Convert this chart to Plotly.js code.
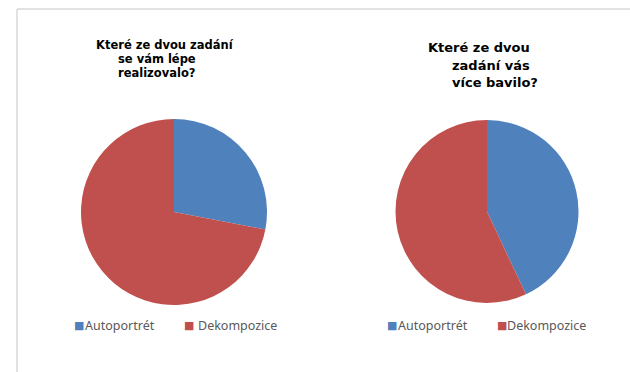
<!DOCTYPE html>
<html>
<head>
<meta charset="utf-8">
<script src="https://cdn.plot.ly/plotly-3.0.1.min.js"></script>
<style>html,body{margin:0;padding:0;background:#fff;overflow:hidden;}#chart{width:630px;height:372px;}</style>
</head>
<body>
<div id="chart"></div>
<script>
// Data
var labels = ["Autoportrét", "Dekompozice"];
var colors = ["#4F81BD", "#C0504D"];
var valuesLeft = [28, 72];
var valuesRight = [43, 57];
var titleLeftLines = ["Které ze dvou zadání", "se vám lépe", "realizovalo?"];
var titleRightLines = ["Které ze dvou", "zadání vás", "více bavilo?"];

var W = 630, H = 372;
function px(x){ return x / W; }
function py(y){ return 1 - y / H; }

var pieCommon = {
  type: "pie",
  labels: labels,
  marker: {colors: colors, line: {width: 0}},
  sort: false,
  direction: "clockwise",
  rotation: 0,
  textinfo: "none",
  hoverinfo: "label+value",
  showlegend: false
};

var traces = [
  Object.assign({}, pieCommon, {
    values: valuesLeft,
    domain: {x: [px(81), px(267)], y: [py(305), py(119)]}
  }),
  Object.assign({}, pieCommon, {
    values: valuesRight,
    domain: {x: [px(395), px(579)], y: [py(303), py(120)]}
  })
];

var annotations = [];
function addTitle(lines, pos, size){
  lines.forEach(function(t, i){
    annotations.push({text: "<b>" + t + "</b>", x: px(pos[i][0]), y: py(pos[i][1]),
      xref: "paper", yref: "paper", xanchor: "left", yanchor: "middle", showarrow: false,
      font: {family: "DejaVu Sans", size: size, color: "#000000", weight: 700}});
  });
}
addTitle(titleLeftLines, [[94, 45], [116, 59], [116, 73]], 11.5);
addTitle(titleRightLines, [[426, 47], [450, 65], [450, 82]], 13);

// Legends (built from labels and colors)
var legendFont = {family: "Noto Sans", size: 12.5, color: "#595959"};
function addLegend(sqX, txtX, y){
  labels.forEach(function(l, i){
    annotations.push({text: "■", x: px(sqX[i]), y: py(y), xref: "paper", yref: "paper",
      xanchor: "left", yanchor: "middle", showarrow: false,
      font: {family: "DejaVu Sans", size: 11, color: colors[i]}});
    annotations.push({text: l, x: px(txtX[i]), y: py(y), xref: "paper", yref: "paper",
      xanchor: "left", yanchor: "middle", showarrow: false, font: legendFont});
  });
}
addLegend([72, 182], [83, 196], 325);
addLegend([385, 495], [396, 505], 325);

var layout = {
  width: W, height: H,
  margin: {l: 0, r: 0, t: 0, b: 0},
  paper_bgcolor: "#ffffff",
  plot_bgcolor: "#ffffff",
  showlegend: false,
  annotations: annotations,
  shapes: [
    {type: "line", xref: "paper", yref: "paper", x0: px(17), x1: px(17), y0: -0.02, y1: py(9),
      line: {color: "#d9d9d9", width: 1.5}},
    {type: "line", xref: "paper", yref: "paper", x0: px(17), x1: 1.02, y0: py(9), y1: py(9),
      line: {color: "#d9d9d9", width: 1.5}}
  ]
};

Plotly.newPlot("chart", traces, layout, {displayModeBar: false, staticPlot: true});
</script>
</body>
</html>
